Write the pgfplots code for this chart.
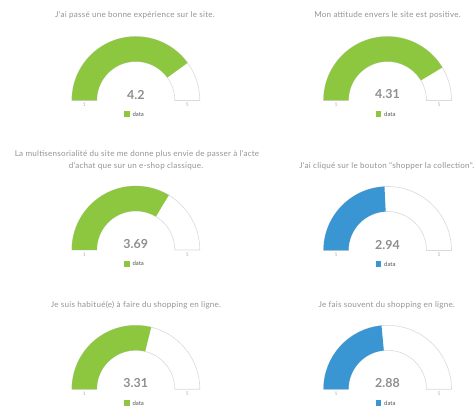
\documentclass[border=0pt]{standalone}
\usepackage{pgfplots}
\pgfplotsset{compat=1.18}
\usepackage{fontspec}
\setmainfont{Lato}
\newfontfamily\titlefont[LetterSpace=3]{Lato}
\definecolor{gGreen}{HTML}{8DC63F}
\definecolor{gBlue}{HTML}{3A96D2}
\definecolor{titleGray}{HTML}{939393}
\definecolor{valGray}{HTML}{8E8E8E}
\definecolor{rimGray}{HTML}{DADADA}
\definecolor{tickGray}{HTML}{B0B0B0}
\definecolor{legGray}{HTML}{555555}

% #1 centre x, #2 baseline (from top), #3 value, #4 colour
\newcommand{\gauge}[4]{%
  \filldraw[fill=white, draw=rimGray, line width=0.6bp]
    (axis cs:{#1-64},{407-#2}) arc[start angle=180,end angle=0,radius=64bp]
    -- ++(-25bp,0) arc[start angle=0,end angle=180,radius=39bp] -- cycle;
  \fill[#4]
    (axis cs:{#1-64},{407-#2}) arc[start angle=180,end angle={180-(#3-1)*45},radius=64bp]
    -- ++({360-(#3-1)*45}:25bp) arc[start angle={180-(#3-1)*45},end angle=180,radius=39bp] -- cycle;
  \node[font=\fontsize{12.5}{14}\selectfont\bfseries, text=valGray] at (axis cs:{#1},{407-#2+6}) {#3};
  \node[font=\fontsize{5}{6}\selectfont, text=tickGray] at (axis cs:{#1-51.5},{407-#2-4.5}) {1};
  \node[font=\fontsize{5}{6}\selectfont, text=tickGray] at (axis cs:{#1+51.5},{407-#2-4.5}) {5};
  \fill[#4] (axis cs:{#1-11.8},{407-#2-11}) rectangle (axis cs:{#1-6.2},{407-#2-16.6});
  \node[font=\fontsize{6}{7}\selectfont, text=legGray, anchor=west, inner sep=0pt] at (axis cs:{#1-3.5},{407-#2-13.8}) {data};
}

\begin{document}
\begin{tikzpicture}
\begin{axis}[
  width=475bp, height=407bp, scale only axis,
  xmin=0, xmax=475, ymin=0, ymax=407,
  hide axis, clip=false,
]
\addplot[draw=none, forget plot] coordinates {(0,0) (475,407)};
\gauge{135.8}{100.5}{4.2}{gGreen}
\gauge{387.5}{100.5}{4.31}{gGreen}
\gauge{135.8}{250}{3.69}{gGreen}
\gauge{387.5}{250.5}{2.94}{gBlue}
\gauge{135.8}{389.3}{3.31}{gGreen}
\gauge{387.5}{389.3}{2.88}{gBlue}

\begin{scope}[every node/.style={font=\titlefont\fontsize{8.1}{9}\selectfont, text=titleGray, inner sep=0pt}]
\node at (axis cs:135,{407-15}) {J'ai passé une bonne expérience sur le site.};
\node at (axis cs:387.5,{407-15}) {Mon attitude envers le site est positive.};
\node at (axis cs:137,{407-154}) {La multisensorialité du site me donne plus envie de passer à l'acte};
\node at (axis cs:136,{407-166.3}) {d'achat que sur un e-shop classique.};
\node at (axis cs:386.7,{407-166.7}) {J'ai cliqué sur le bouton "shopper la collection".};
\node at (axis cs:136,{407-305}) {Je suis habitué(e) à faire du shopping en ligne.};
\node at (axis cs:386.7,{407-305}) {Je fais souvent du shopping en ligne.};
\end{scope}
\end{axis}
\end{tikzpicture}
\end{document}
